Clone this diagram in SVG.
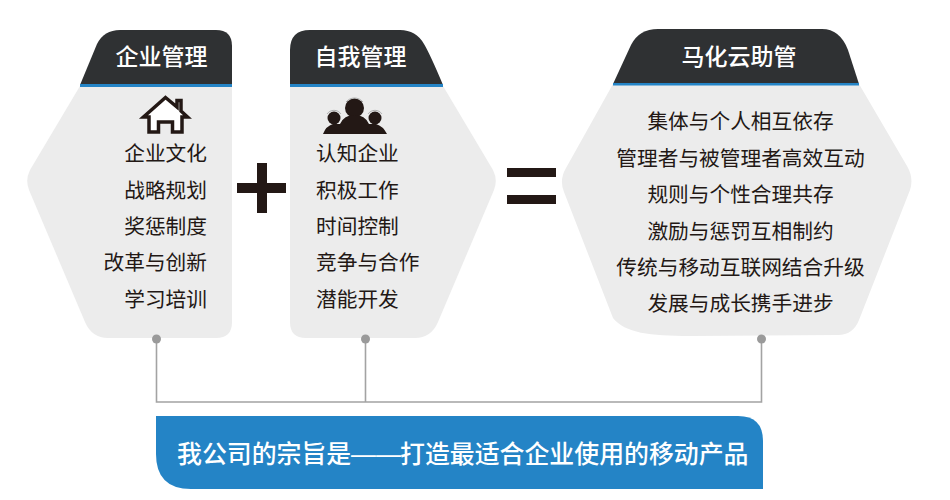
<svg xmlns="http://www.w3.org/2000/svg" width="950" height="500" viewBox="0 0 950 500">
<style>
text{font-family:"Noto Sans CJK SC","Noto Sans",sans-serif}
.body{fill:#ececec}
.head{fill:#2f3133}
.rule{fill:#2484c6}
.title{font-size:23px;font-weight:500;fill:#fff}
.item{font-size:20.700px;fill:#231815}
.mark{fill:#231815}
.ring{fill:none;stroke:#8a8a8a;stroke-width:.6}
.wire{fill:none;stroke:#a3a3a3;stroke-width:1.6}
.dot{fill:#9a9a9a}
</style>
<rect width="950" height="500" fill="#fff"/>
<g id="node-enterprise">
<path class="body" d="M80 86H232V322Q232 338 216 338H108Q92 338 85 322L29 190Q25 180 30 170Z"/>
<path class="head" d="M80 85L97 44Q104 30 120 30H216Q232 30 232 46V85Z"/>
<rect class="rule" x="80" y="84" width="152" height="3"/>
<text class="title" x="161.500" y="65" text-anchor="middle">企业管理</text>
<path d="M165.500 97.500L177 107V100.500H181V111L187.500 117H182V132H172.500V122H158.500V132H149V117H143.500Z" fill="#fff" stroke="#231815" stroke-width="3.500" stroke-linejoin="miter"/>
<text class="item" x="207" y="161" text-anchor="end">企业文化</text>
<text class="item" x="207" y="198" text-anchor="end">战略规划</text>
<text class="item" x="207" y="234" text-anchor="end">奖惩制度</text>
<text class="item" x="207" y="270" text-anchor="end">改革与创新</text>
<text class="item" x="207" y="307" text-anchor="end">学习培训</text>
</g>
<g id="node-self">
<path class="body" d="M290 86H443L493 170Q498 180 494 190L438 322Q431 338 415 338H306Q290 338 290 322Z"/>
<path class="head" d="M290 85V50Q290 30 310 30H400Q416 30 424 44Q430 54 443 85Z"/>
<rect class="rule" x="290" y="84" width="153" height="3"/>
<text class="title" x="360.500" y="65" text-anchor="middle">自我管理</text>
<g class="mark">
<circle cx="354.500" cy="108" r="9.500"/>
<circle cx="334" cy="118" r="6.500"/>
<circle cx="375" cy="118" r="6.500"/>
<path d="M323 134Q326 126 333 124L340 124Q344 115 354.500 115Q365 115 369 124L376 124Q383 126 387 134Z"/>
</g>
<path class="ring" d="M346 102A11 11 0 0 1 363 102M327 114A8.500 8.500 0 0 1 341 114M368 114A8.500 8.500 0 0 1 382 114"/>
<text class="item" x="316" y="161">认知企业</text>
<text class="item" x="316" y="198">积极工作</text>
<text class="item" x="316" y="234">时间控制</text>
<text class="item" x="316" y="270">竞争与合作</text>
<text class="item" x="316" y="307">潜能开发</text>
</g>
<g id="plus" class="mark">
<rect x="237" y="183" width="49" height="10"/>
<rect x="257" y="163" width="10" height="50"/>
</g>
<g id="equals" class="mark">
<rect x="507" y="168" width="49" height="9"/>
<rect x="507" y="195" width="49" height="9"/>
</g>
<g id="node-mahua">
<path class="body" d="M613 84H859L907 166Q914 178 910 190L859 320Q853 335 838 335L690 336C650 336 625 333 613 318L564 192Q559 180 566 168Z"/>
<path class="head" d="M613 84L631 45Q639 29 658 29H822Q840 29 848 50L859 84Z"/>
<rect class="rule" x="613" y="83" width="246" height="2.500"/>
<text class="title" x="739" y="65" text-anchor="middle">马化云助管</text>
<text class="item" x="740.500" y="129" text-anchor="middle">集体与个人相互依存</text>
<text class="item" x="740.500" y="166" text-anchor="middle">管理者与被管理者高效互动</text>
<text class="item" x="740.500" y="202" text-anchor="middle">规则与个性合理共存</text>
<text class="item" x="740.500" y="239" text-anchor="middle">激励与惩罚互相制约</text>
<text class="item" x="740.500" y="275" text-anchor="middle">传统与移动互联网结合升级</text>
<text class="item" x="740.500" y="311" text-anchor="middle">发展与成长携手进步</text>
</g>
<g id="connectors">
<path class="wire" d="M156.500 339V402H761.500V339M365.500 339V402"/>
<circle class="dot" cx="156.500" cy="339" r="4.500"/>
<circle class="dot" cx="365.500" cy="339" r="4.500"/>
<circle class="dot" cx="761.500" cy="339" r="4.500"/>
</g>
<g id="banner">
<path class="rule" d="M156 416H738Q763 416 763 441V489H191Q156 489 156 454Z"/>
<text x="177" y="463" font-size="24.900" font-weight="500" fill="#fff">我公司的宗旨是<tspan x="351" style="font-family:'Liberation Sans',sans-serif">——</tspan><tspan x="400">打造最适合企业使用的移动产品</tspan></text>
</g>
</svg>
